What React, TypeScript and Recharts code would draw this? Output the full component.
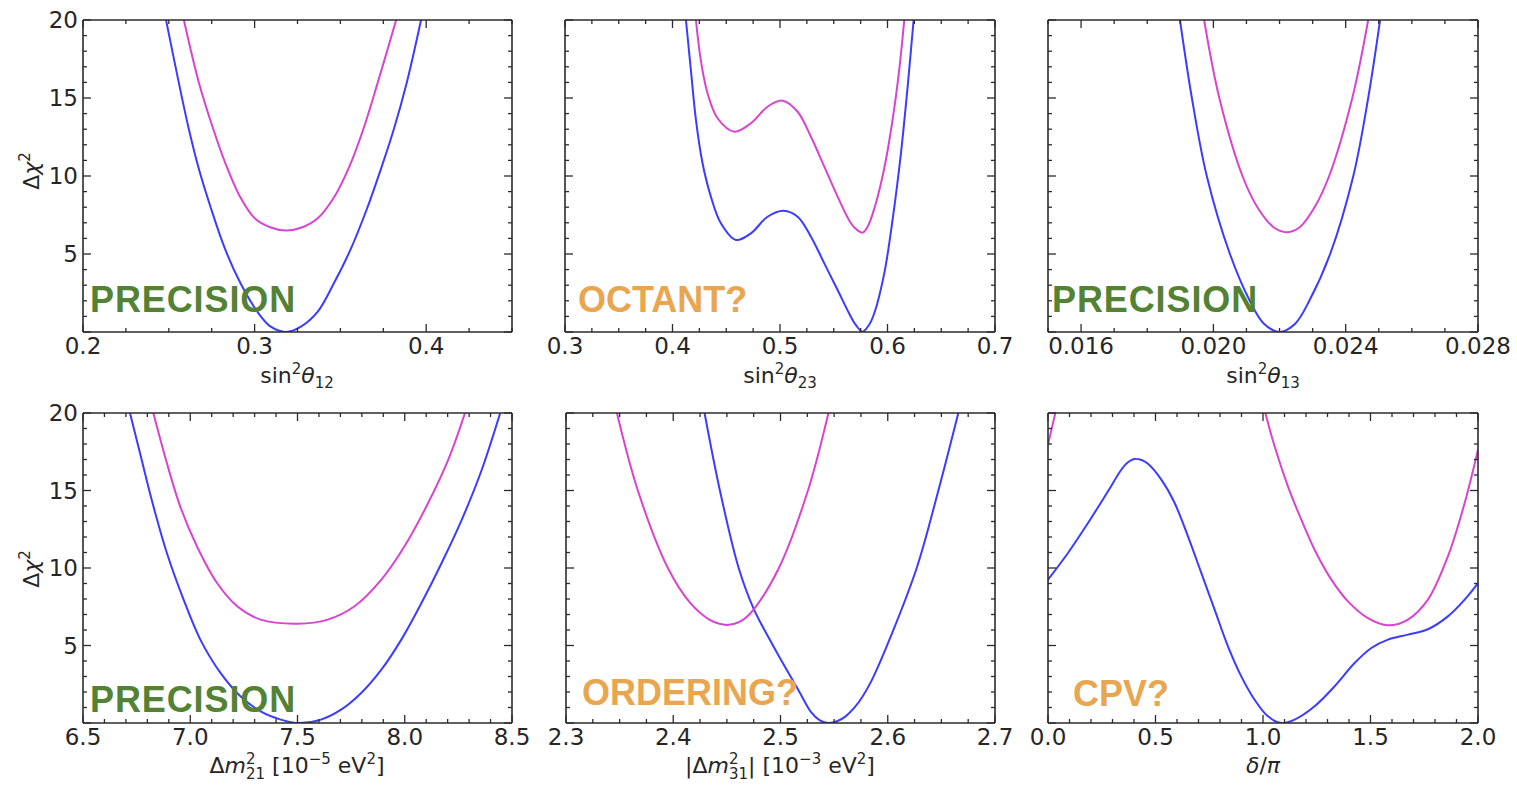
import { LineChart, Line, XAxis, YAxis } from "recharts"

// values: x, delta chi^2
const s12Blue = [
  { x: 0.2484, y: 20 }, { x: 0.2558, y: 16 }, { x: 0.2618, y: 12.95 }, { x: 0.2677, y: 10.38 },
  { x: 0.2749, y: 7.82 }, { x: 0.283, y: 5.26 }, { x: 0.2918, y: 3.12 }, { x: 0.3016, y: 1.3 },
  { x: 0.3094, y: 0.34 }, { x: 0.3182, y: 0 }, { x: 0.327, y: 0.34 }, { x: 0.3368, y: 1.3 },
  { x: 0.3462, y: 3.12 }, { x: 0.3558, y: 5.26 }, { x: 0.3652, y: 7.82 }, { x: 0.3734, y: 10.38 },
  { x: 0.381, y: 12.95 }, { x: 0.3887, y: 16 }, { x: 0.397, y: 20 },
]
const s12Magenta = [
  { x: 0.2588, y: 20 }, { x: 0.2675, y: 16 }, { x: 0.2761, y: 12.95 }, { x: 0.283, y: 10.81 },
  { x: 0.2915, y: 8.67 }, { x: 0.3, y: 7.3 }, { x: 0.3095, y: 6.7 }, { x: 0.3182, y: 6.5 },
  { x: 0.327, y: 6.68 }, { x: 0.3368, y: 7.29 }, { x: 0.3465, y: 8.67 }, { x: 0.3552, y: 10.6 },
  { x: 0.3632, y: 12.95 }, { x: 0.3718, y: 16 }, { x: 0.3825, y: 20 },
]

const s23Blue = [
  { x: 0.4125, y: 20 }, { x: 0.4171, y: 16.8 }, { x: 0.4218, y: 13.6 }, { x: 0.428, y: 10.8 },
  { x: 0.4357, y: 8.68 }, { x: 0.445, y: 6.97 }, { x: 0.459, y: 5.9 }, { x: 0.4729, y: 6.32 },
  { x: 0.4884, y: 7.39 }, { x: 0.5033, y: 7.78 }, { x: 0.5164, y: 7.39 }, { x: 0.5288, y: 6.11 },
  { x: 0.5412, y: 4.4 }, { x: 0.5536, y: 2.69 }, { x: 0.5635, y: 1.3 }, { x: 0.5705, y: 0.45 },
  { x: 0.5768, y: 0.02 }, { x: 0.5828, y: 0.45 }, { x: 0.5877, y: 1.2 }, { x: 0.597, y: 3.76 },
  { x: 0.6047, y: 7.18 }, { x: 0.6125, y: 11.45 }, { x: 0.6187, y: 15.7 }, { x: 0.6243, y: 20 },
]
const s23Magenta = [
  { x: 0.4218, y: 20 }, { x: 0.4264, y: 17.4 }, { x: 0.4326, y: 15.3 }, { x: 0.4419, y: 13.7 },
  { x: 0.4574, y: 12.84 }, { x: 0.4729, y: 13.38 }, { x: 0.4884, y: 14.44 }, { x: 0.5024, y: 14.83 },
  { x: 0.5164, y: 14.12 }, { x: 0.5288, y: 12.52 }, { x: 0.5412, y: 10.6 }, { x: 0.5536, y: 8.68 },
  { x: 0.566, y: 6.97 }, { x: 0.5715, y: 6.55 }, { x: 0.5768, y: 6.37 }, { x: 0.5815, y: 6.75 },
  { x: 0.5877, y: 7.9 }, { x: 0.597, y: 10.5 }, { x: 0.6047, y: 13.59 }, { x: 0.6109, y: 16.8 },
  { x: 0.6156, y: 20 },
]

const s13Blue = [
  { x: 0.01899, y: 20 }, { x: 0.01935, y: 15 }, { x: 0.0198, y: 10 }, { x: 0.0205, y: 5 },
  { x: 0.0211, y: 2 }, { x: 0.02152, y: 0.55 }, { x: 0.022, y: 0 }, { x: 0.02248, y: 0.55 },
  { x: 0.0229, y: 2 }, { x: 0.02353, y: 5 }, { x: 0.02423, y: 10 }, { x: 0.02468, y: 15 },
  { x: 0.02504, y: 20 },
]
const s13Magenta = [
  { x: 0.01972, y: 20 }, { x: 0.02018, y: 15 }, { x: 0.02088, y: 10 }, { x: 0.02133, y: 8 },
  { x: 0.02183, y: 6.7 }, { x: 0.02222, y: 6.4 }, { x: 0.0226, y: 6.7 }, { x: 0.02306, y: 8 },
  { x: 0.0235, y: 10 }, { x: 0.0242, y: 15 }, { x: 0.02468, y: 20 },
]

const dm21Blue = [
  { x: 6.719, y: 20 }, { x: 6.766, y: 17.4 }, { x: 6.828, y: 14 }, { x: 6.891, y: 10.97 },
  { x: 6.969, y: 7.96 }, { x: 7.047, y: 5.38 }, { x: 7.141, y: 3.23 }, { x: 7.234, y: 1.72 },
  { x: 7.328, y: 0.75 }, { x: 7.422, y: 0.22 }, { x: 7.508, y: 0 }, { x: 7.609, y: 0.22 },
  { x: 7.703, y: 0.86 }, { x: 7.797, y: 1.94 }, { x: 7.891, y: 3.44 }, { x: 7.984, y: 5.38 },
  { x: 8.078, y: 7.74 }, { x: 8.172, y: 10.32 }, { x: 8.266, y: 13.12 }, { x: 8.359, y: 16.34 },
  { x: 8.445, y: 20 },
]
const dm21Magenta = [
  { x: 6.828, y: 20 }, { x: 6.891, y: 16.77 }, { x: 6.953, y: 13.98 }, { x: 7.031, y: 11.4 },
  { x: 7.125, y: 9.03 }, { x: 7.219, y: 7.53 }, { x: 7.328, y: 6.67 }, { x: 7.5, y: 6.41 },
  { x: 7.641, y: 6.67 }, { x: 7.766, y: 7.53 }, { x: 7.891, y: 9.25 }, { x: 7.999, y: 11.4 },
  { x: 8.109, y: 14.19 }, { x: 8.203, y: 16.99 }, { x: 8.281, y: 20 },
]

const dm31Blue = [
  { x: 2.4292, y: 20 }, { x: 2.4435, y: 15 }, { x: 2.461, y: 10 }, { x: 2.4748, y: 7.4 },
  { x: 2.4935, y: 4.94 }, { x: 2.5165, y: 2.15 }, { x: 2.5287, y: 0.69 }, { x: 2.5367, y: 0.17 },
  { x: 2.5447, y: 0 }, { x: 2.5527, y: 0.11 }, { x: 2.5607, y: 0.43 }, { x: 2.5687, y: 0.97 },
  { x: 2.5767, y: 1.73 }, { x: 2.5847, y: 2.7 }, { x: 2.599, y: 4.94 }, { x: 2.627, y: 10 },
  { x: 2.6472, y: 15 }, { x: 2.6658, y: 20 },
]
const dm31Magenta = [
  { x: 2.3475, y: 20 }, { x: 2.367, y: 15 }, { x: 2.395, y: 10 }, { x: 2.416, y: 7.73 },
  { x: 2.434, y: 6.65 }, { x: 2.443, y: 6.4 }, { x: 2.45, y: 6.33 }, { x: 2.457, y: 6.4 },
  { x: 2.465, y: 6.65 }, { x: 2.4758, y: 7.4 }, { x: 2.4985, y: 10 }, { x: 2.5256, y: 15 },
  { x: 2.5447, y: 20 },
]

const cpBlue = [
  { x: 0, y: 9.25 }, { x: 0.093, y: 10.97 }, { x: 0.186, y: 12.9 }, { x: 0.279, y: 14.95 },
  { x: 0.341, y: 16.34 }, { x: 0.372, y: 16.82 }, { x: 0.4, y: 17.03 }, { x: 0.432, y: 16.98 },
  { x: 0.465, y: 16.72 }, { x: 0.527, y: 15.7 }, { x: 0.589, y: 14.19 }, { x: 0.651, y: 12.04 },
  { x: 0.713, y: 9.68 }, { x: 0.775, y: 7.31 }, { x: 0.837, y: 4.95 }, { x: 0.899, y: 3.01 },
  { x: 0.961, y: 1.5 }, { x: 1.023, y: 0.43 }, { x: 1.085, y: 0 }, { x: 1.147, y: 0.22 },
  { x: 1.24, y: 1.08 }, { x: 1.333, y: 2.37 }, { x: 1.426, y: 3.87 }, { x: 1.504, y: 4.84 },
  { x: 1.581, y: 5.38 }, { x: 1.674, y: 5.7 }, { x: 1.767, y: 6.05 }, { x: 1.86, y: 6.88 },
  { x: 1.938, y: 7.96 }, { x: 2, y: 9.03 },
]
const cpMagentaLeft = [{ x: 0, y: 17.96 }, { x: 0.034, y: 20 }]
const cpMagenta = [
  { x: 1.011, y: 20 }, { x: 1.054, y: 17.85 }, { x: 1.116, y: 15.27 }, { x: 1.178, y: 13.12 },
  { x: 1.24, y: 11.18 }, { x: 1.318, y: 9.25 }, { x: 1.395, y: 7.85 }, { x: 1.488, y: 6.77 },
  { x: 1.581, y: 6.3 }, { x: 1.674, y: 6.67 }, { x: 1.767, y: 7.96 }, { x: 1.86, y: 10.75 },
  { x: 1.938, y: 14.19 }, { x: 2, y: 17.63 },
]

const yTicks = [0, 1, 2, 3, 4, 5, 6, 7, 8, 9, 10, 11, 12, 13, 14, 15, 16, 17, 18, 19, 20]

const BLUE = "#3c3cff"
const MAGENTA = "#d844d2"
const INK = "#262626"
const FRAME = "#2b2b2b"
const FONT = "DejaVu Sans"

function range(a: number, b: number, step: number) {
  const out: number[] = []
  const n = Math.round((b - a) / step)
  for (let i = 0; i <= n; i++) out.push(Math.round((a + i * step) * 1e6) / 1e6)
  return out
}

// centripetal catmull-rom, handed to recharts as a curve factory
function smoothCurve(context: any) {
  let pts: number[][] = []
  return {
    areaStart() {},
    areaEnd() {},
    lineStart() {
      pts = []
    },
    point(x: number, y: number) {
      pts.push([+x, +y])
    },
    lineEnd() {
      const n = pts.length
      if (!n) return
      context.moveTo(pts[0][0], pts[0][1])
      if (n === 2) context.lineTo(pts[1][0], pts[1][1])
      if (n < 3) return
      for (let i = 0; i < n - 1; i++) {
        const p0 = pts[Math.max(i - 1, 0)]
        const p1 = pts[i]
        const p2 = pts[i + 1]
        const p3 = pts[Math.min(i + 2, n - 1)]
        const d01 = Math.hypot(p1[0] - p0[0], p1[1] - p0[1])
        const d12 = Math.hypot(p2[0] - p1[0], p2[1] - p1[1])
        const d23 = Math.hypot(p3[0] - p2[0], p3[1] - p2[1])
        const a01 = Math.sqrt(d01)
        const a12 = Math.sqrt(d12)
        const a23 = Math.sqrt(d23)
        let c1 = p1
        let c2 = p2
        if (a01 > 1e-9) {
          const a = 2 * d01 + 3 * a01 * a12 + d12
          const m = 3 * a01 * (a01 + a12)
          c1 = [(p1[0] * a - p0[0] * d12 + p2[0] * d01) / m, (p1[1] * a - p0[1] * d12 + p2[1] * d01) / m]
        }
        if (a23 > 1e-9) {
          const b = 2 * d23 + 3 * a23 * a12 + d12
          const m = 3 * a23 * (a23 + a12)
          c2 = [(p2[0] * b + p1[0] * d23 - p3[0] * d12) / m, (p2[1] * b + p1[1] * d23 - p3[1] * d12) / m]
        }
        context.bezierCurveTo(c1[0], c1[1], c2[0], c2[1], p2[0], p2[1])
      }
    },
  }
}

function makeTick(side: string, majorStep: number, fmt?: (v: number) => string) {
  return (props: any) => {
    const { x, y, payload } = props
    const v = payload.value
    const r = v / majorStep
    const major = Math.abs(r - Math.round(r)) < 1e-6
    const len = major ? 8 : 4
    let line
    if (side === "bottom") line = <line x1={x} y1={y} x2={x} y2={y - len} />
    else if (side === "top") line = <line x1={x} y1={y} x2={x} y2={y + len} />
    else if (side === "left") line = <line x1={x} y1={y} x2={x + len} y2={y} />
    else line = <line x1={x} y1={y} x2={x - len} y2={y} />
    let label = null
    if (fmt && major && !(side === "left" && v === 0)) {
      if (side === "bottom")
        label = <text x={x} y={y + 22} textAnchor="middle" fill={INK} stroke="none" fontSize={23} fontFamily={FONT}>{fmt(v)}</text>
      else
        label = <text x={x - 5} y={y + 8} textAnchor="end" fill={INK} stroke="none" fontSize={23} fontFamily={FONT}>{fmt(v)}</text>
    }
    return (
      <g stroke={FRAME} strokeWidth={1.3}>
        {line}
        {label}
      </g>
    )
  }
}

const panels = [
  { left: 83, top: 20, w: 429, h: 312, dom: [0.2, 0.45], ticks: range(0.2, 0.45, 0.025), major: 0.1, fmt: (v: number) => v.toFixed(1), yLab: true, lines: [s12Blue, s12Magenta] },
  { left: 565, top: 20, w: 430, h: 312, dom: [0.3, 0.7], ticks: range(0.3, 0.7, 0.025), major: 0.1, fmt: (v: number) => v.toFixed(1), yLab: false, lines: [s23Blue, s23Magenta] },
  { left: 1048, top: 20, w: 430, h: 312, dom: [0.015, 0.028], ticks: range(0.015, 0.028, 0.001), major: 0.004, fmt: (v: number) => v.toFixed(3), yLab: false, lines: [s13Blue, s13Magenta] },
  { left: 83, top: 413, w: 429, h: 310, dom: [6.5, 8.5], ticks: range(6.5, 8.5, 0.1), major: 0.5, fmt: (v: number) => v.toFixed(1), yLab: true, lines: [dm21Blue, dm21Magenta] },
  { left: 566, top: 413, w: 429, h: 310, dom: [2.3, 2.7], ticks: range(2.3, 2.7, 0.025), major: 0.1, fmt: (v: number) => v.toFixed(1), yLab: false, lines: [dm31Blue, dm31Magenta] },
  { left: 1048, top: 413, w: 430, h: 310, dom: [0, 2], ticks: range(0, 2, 0.1), major: 0.5, fmt: (v: number) => v.toFixed(1), yLab: false, lines: [cpBlue, cpMagenta, cpMagentaLeft] },
]

const ML = 70
const MT = 20
const MR = 40
const MB = 70

function Panel({ p }: { p: (typeof panels)[number] }) {
  const axisLine = { stroke: FRAME, strokeWidth: 1.6 }
  return (
    <div style={{ position: "absolute", left: p.left - ML, top: p.top - MT }}>
      <LineChart width={p.w + ML + MR} height={p.h + MT + MB} margin={{ top: MT - 1, right: MR - 1, bottom: 0, left: 0 }}>
        <XAxis xAxisId="b" type="number" dataKey="x" domain={p.dom} ticks={p.ticks} interval={0} orientation="bottom" height={MB} tickSize={0} tickMargin={0} tickLine={false} axisLine={axisLine} tick={makeTick("bottom", p.major, p.fmt)} allowDataOverflow />
        <XAxis xAxisId="t" type="number" dataKey="x" domain={p.dom} ticks={p.ticks} interval={0} orientation="top" height={1} tickSize={0} tickMargin={0} tickLine={false} axisLine={axisLine} tick={makeTick("top", p.major)} allowDataOverflow />
        <YAxis yAxisId="l" type="number" domain={[0, 20]} ticks={yTicks} interval={0} orientation="left" width={ML} tickSize={0} tickMargin={0} tickLine={false} axisLine={axisLine} tick={makeTick("left", 5, p.yLab ? (v: number) => String(v) : undefined)} allowDataOverflow />
        <YAxis yAxisId="r" type="number" domain={[0, 20]} ticks={yTicks} interval={0} orientation="right" width={1} tickSize={0} tickMargin={0} tickLine={false} axisLine={axisLine} tick={makeTick("right", 5)} allowDataOverflow />
        {p.lines.map((d, i) => (
          <Line key={i} xAxisId="b" yAxisId="l" data={d} dataKey="y" type={smoothCurve as any} stroke={i === 0 ? BLUE : MAGENTA} strokeWidth={2} dot={false} activeDot={false} isAnimationActive={false} />
        ))}
      </LineChart>
    </div>
  )
}

function SinTitle({ cx, sub }: { cx: number; sub: string }) {
  return (
    <text x={cx} y={383} textAnchor="middle" fontSize={22} fill={INK} fontFamily={FONT}>
      <tspan>sin</tspan>
      <tspan dy={-9} fontSize={15}>2</tspan>
      <tspan dy={9} fontStyle="italic">θ</tspan>
      <tspan dy={5} fontSize={15}>{sub}</tspan>
    </text>
  )
}

function MassTitle({ cx, sub, exp, abs }: { cx: number; sub: string; exp: string; abs: boolean }) {
  return (
    <text x={cx} y={773} textAnchor="middle" fontSize={22} fill={INK} fontFamily={FONT}>
      <tspan>{abs ? "|Δ" : "Δ"}</tspan>
      <tspan fontStyle="italic">m</tspan>
      <tspan dy={-9} fontSize={15}>2</tspan>
      <tspan dx={-9.5} dy={15} fontSize={15}>{sub}</tspan>
      <tspan dy={-6}>{abs ? "|\u00a0[10" : "\u00a0[10"}</tspan>
      <tspan dy={-9} fontSize={15}>{"−" + exp}</tspan>
      <tspan dy={9}>{"\u00a0eV"}</tspan>
      <tspan dy={-9} fontSize={15}>2</tspan>
      <tspan dy={9}>]</tspan>
    </text>
  )
}

function YTitle({ cy }: { cy: number }) {
  return (
    <text transform={`translate(39,${cy}) rotate(-90)`} textAnchor="middle" fontSize={22} fill={INK} fontFamily={FONT}>
      <tspan>Δ</tspan>
      <tspan fontStyle="italic">χ</tspan>
      <tspan dy={-9} fontSize={15}>2</tspan>
    </text>
  )
}

const GREEN = "#548235"
const ORANGE = "#e9a650"

const notes = [
  { text: "PRECISION", x: 90, y: 312, color: GREEN, ls: 0.9 },
  { text: "OCTANT?", x: 578, y: 312, color: ORANGE, ls: 0 },
  { text: "PRECISION", x: 1052, y: 312, color: GREEN, ls: 0.9 },
  { text: "PRECISION", x: 90, y: 712, color: GREEN, ls: 0.9 },
  { text: "ORDERING?", x: 582, y: 705, color: ORANGE, ls: 0 },
  { text: "CPV?", x: 1073, y: 706, color: ORANGE, ls: 0 },
]

export default function App() {
  return (
    <div style={{ position: "absolute", left: 0, top: 0, width: 1517, height: 787, background: "#fff" }}>
      {panels.map((p, i) => (
        <Panel key={i} p={p} />
      ))}
      <svg width={1517} height={787} style={{ position: "absolute", left: 0, top: 0, pointerEvents: "none" }}>
        <SinTitle cx={297} sub="12" />
        <SinTitle cx={780} sub="23" />
        <SinTitle cx={1263} sub="13" />
        <MassTitle cx={297} sub="21" exp="5" abs={false} />
        <MassTitle cx={780} sub="31" exp="3" abs={true} />
        <text x={1263} y={773} textAnchor="middle" fontSize={22} fill={INK} fontFamily={FONT}>
          <tspan fontStyle="italic">δ</tspan>
          <tspan>/</tspan>
          <tspan fontStyle="italic">π</tspan>
        </text>
        <YTitle cy={171} />
        <YTitle cy={569} />
        {notes.map((n, i) => (
          <text key={i} x={n.x} y={n.y} fill={n.color} fontSize={36} fontWeight="bold" letterSpacing={n.ls} fontFamily="Liberation Sans, Arial, sans-serif">
            {n.text}
          </text>
        ))}
      </svg>
    </div>
  )
}
